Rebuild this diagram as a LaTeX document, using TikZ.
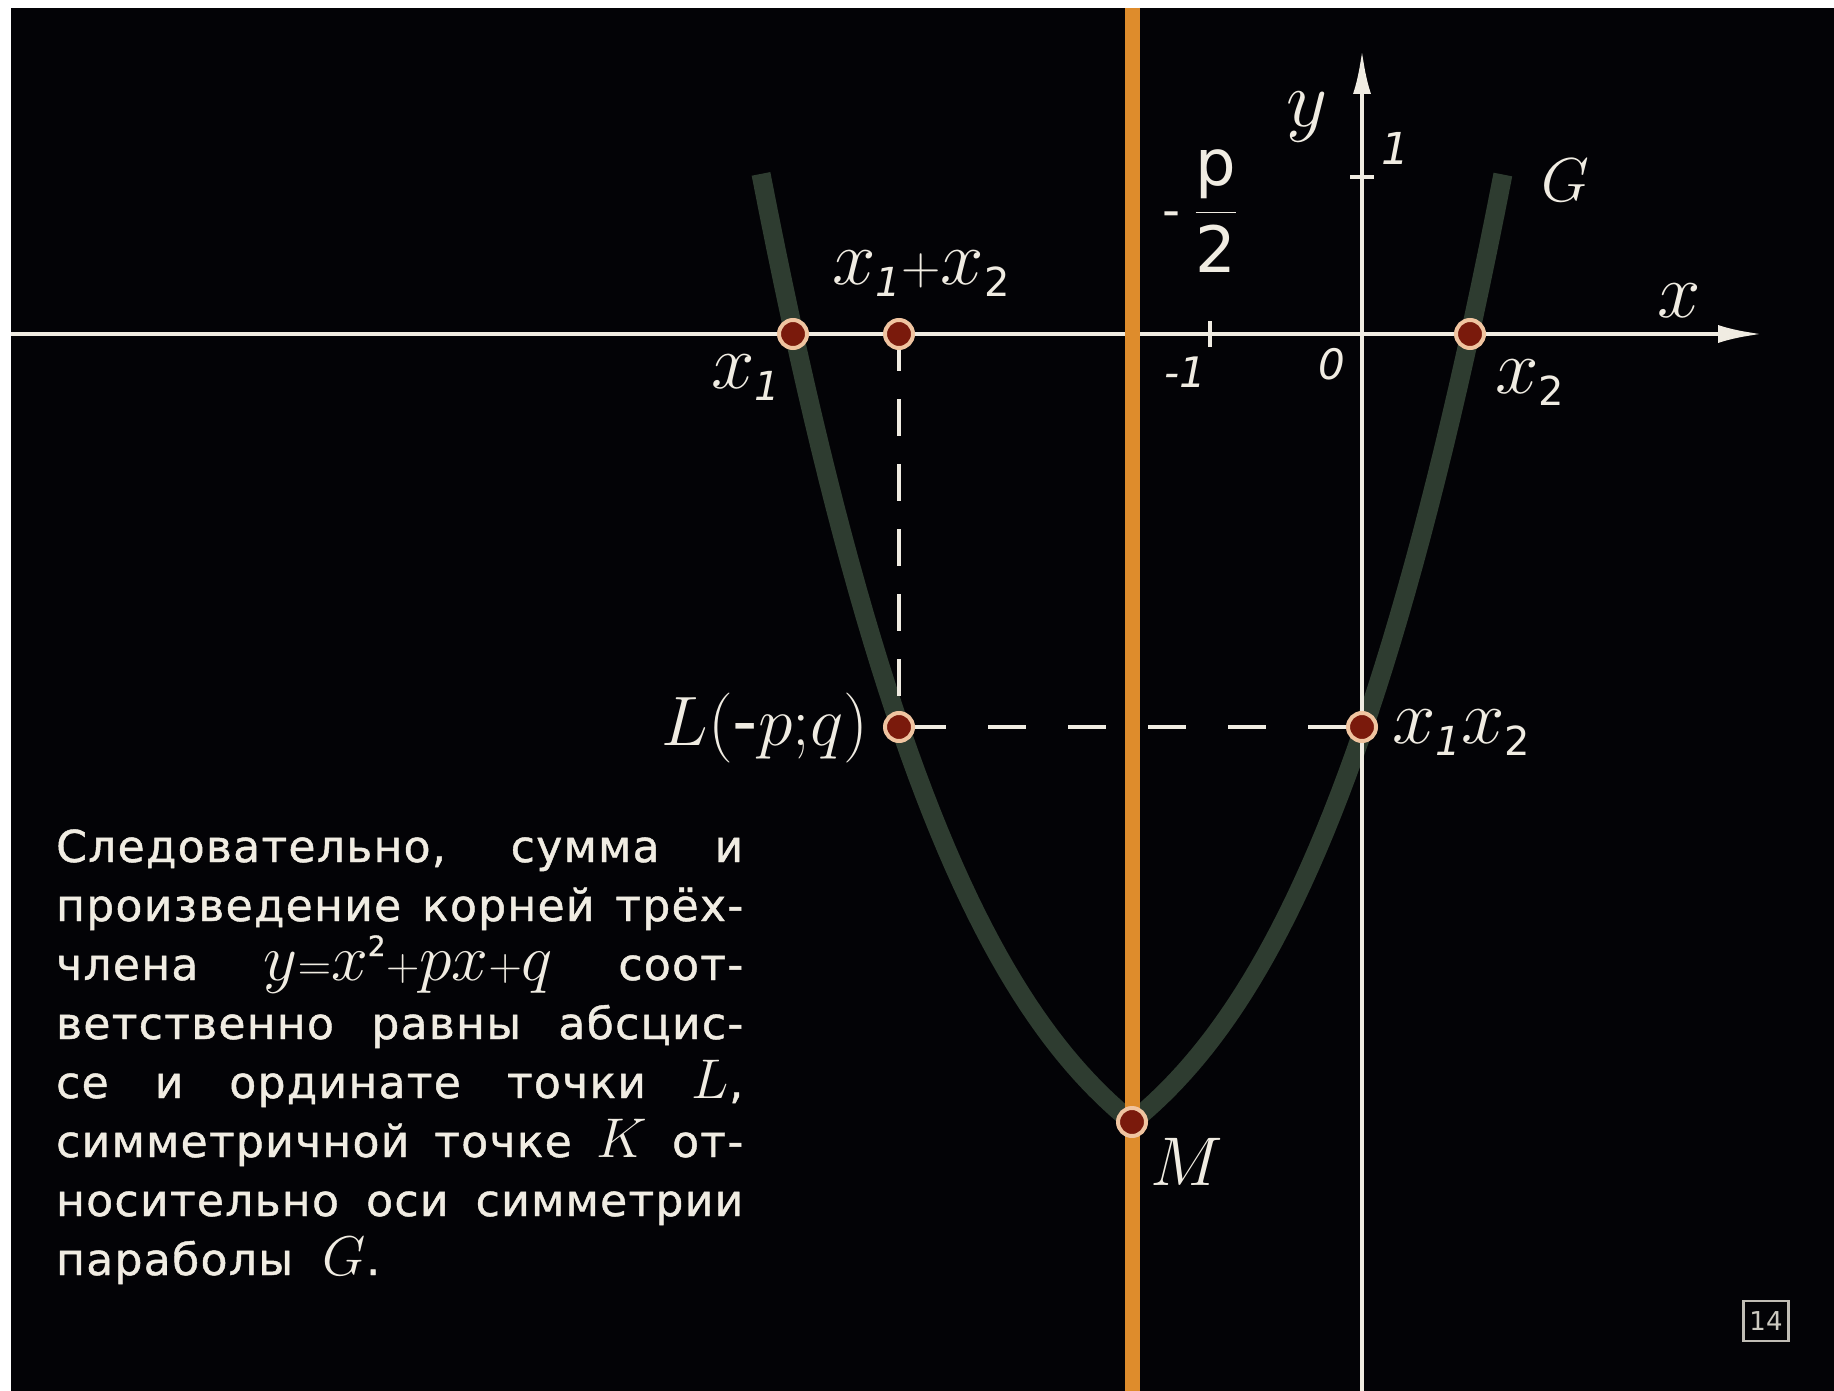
\RequirePackage{fix-cm}
\documentclass[tikz,border=0pt]{standalone}
\usepackage{fontspec}
\setmainfont{DejaVu Sans}
\newfontfamily\bodyfont[LetterSpace=3,FakeBold=1]{DejaVu Sans}
\usetikzlibrary{arrows.meta}
\definecolor{bgblack}{RGB}{3,3,6}
\definecolor{chalk}{RGB}{240,236,226}
\definecolor{axisor}{RGB}{222,140,44}
\definecolor{parab}{RGB}{46,60,48}
\definecolor{dotred}{RGB}{122,26,12}
\definecolor{dotrim}{RGB}{240,196,160}
\newcommand\fsz[1]{\fontsize{#1}{#1}\selectfont}
\newcommand\jline[1]{\makebox[687pt][s]{#1}}
\newcommand\dg[1]{\mbox{\fsz{40}\upshape #1}}
\newcommand\di[1]{\mbox{\fsz{40}\itshape #1}}
\tikzset{
  axisline/.style={chalk, line width=4.5pt},
  arrowline/.style={axisline, -{Latex[length=44pt,width=18pt]}},
  dashh/.style={chalk, line width=4pt, dash pattern=on 38pt off 42pt, dash phase=71pt},
  dashv/.style={chalk, line width=4pt, dash pattern=on 37pt off 28pt},
  orangeline/.style={axisor, line width=15pt},
  parabline/.style={parab, line width=19pt, line join=round},
  dotsty/.style={circle, fill=dotred, draw=dotrim, line width=4pt, minimum size=28pt, inner sep=0pt},
  lbl/.style={text=chalk, inner sep=0pt},
  bodyline/.style={text=chalk, inner sep=0pt, anchor=base west, font=\bodyfont\fsz{44}},
  pagebox/.style={draw=chalk!80!black, line width=2.5pt, minimum width=45pt, minimum height=40pt, inner sep=0pt, text=chalk!85!black, font=\fsz{26}}
}
\begin{document}
\begin{tikzpicture}[x=1pt,y=-1pt]
\useasboundingbox (0,0) rectangle (1834,1391);
\fill[white] (0,0) rectangle (1834,1391);
\fill[bgblack] (11,8) rectangle (1834,1391);
% named points
\coordinate (X1) at (793,334);
\coordinate (S) at (899,334);
\coordinate (X2) at (1470,334);
\coordinate (L) at (899,727);
\coordinate (P) at (1362,727);
\coordinate (M) at (1132,1122);
\coordinate (xa0) at (11,334);
\coordinate (xa1) at (1762,334);
\coordinate (ya0) at (1362,1391);
\coordinate (ya1) at (1362,50);
\coordinate (or0) at (1132,8);
\coordinate (or1) at (1132,1391);
% parabola G (hand-drawn shape, slight point at the vertex)
\draw[parabline] plot[domain=-3.71:3.71, samples=101]
  ({1132+100*\x}, {1122-(81.27*abs(\x)+23.974*\x*\x+6.2*abs(\x)*\x*\x)});
% axes
\draw[arrowline] (xa0) -- (xa1);
\draw[arrowline] (ya0) -- (ya1);
\draw[axisline] (1210,321) -- (1210,347);
\draw[axisline] (1350,177) -- (1374,177);
% dashed
\draw[dashv] (S) -- (L);
\draw[dashh] (L) -- (P);
% symmetry axis
\draw[orangeline] (or0) -- (or1);
% points
\node[dotsty] (dX1) at (X1) {};
\node[dotsty] (dS) at (S) {};
\node[dotsty] (dX2) at (X2) {};
\node[dotsty] (dL) at (L) {};
\node[dotsty] (dP) at (P) {};
\node[dotsty] (dM) at (M) {};
% labels
\node[lbl, font=\fsz{80}] (ylab) at (1307,117) {$y$};
\node[lbl, font=\fsz{78}] (xlab) at (1679,301) {$x$};
\node[lbl, font=\fsz{62}] (Glab) at (1565,180) {$G$};
\node[lbl, font=\fsz{44}\itshape] (onelab) at (1395,148) {1};
\node[lbl, font=\fsz{42}\itshape] (monelab) at (1185,372) {-1};
\node[lbl, font=\fsz{42}\itshape] (zerolab) at (1332,364) {0};
\node[lbl, font=\fsz{50}] (minuslab) at (1172,220) {-};
\node[lbl, font=\fsz{64}] (p2lab) at (1216,211) {$\displaystyle\frac{\mbox{p}}{\mbox{2}}$};
\node[lbl, font=\fsz{78}] (x1lab) at (746,378) {$x_{\di{1}}$};
\node[lbl, font=\fsz{78}] (x2lab) at (1530,383) {$x_{\dg{2}}$};
\node[lbl, font=\fsz{78}] (sumlab) at (921,274) {$x_{\di{1}}{\scriptstyle+}x_{\dg{2}}$};
\node[lbl, font=\fsz{78}, anchor=west] (prodlab) at (1392,733) {$x_{\di{1}}x_{\dg{2}}$};
\node[lbl, font=\fsz{70}, anchor=east] (Llab) at (868,728) {$L(\mbox{-}p{;}q)$};
\node[lbl, font=\fsz{69}] (Mlab) at (1187,1162) {$M$};
% text block
\node[bodyline] (t1) at (56,862) {\jline{Следовательно, сумма и}};
\node[bodyline] (t2) at (56,921) {\jline{произведение корней трёх-}};
\node[bodyline] (t3) at (56,980) {\jline{члена {\fsz{66}$y{\scriptstyle=}x^{\mbox{\fsz{28}2}}{\scriptstyle+}px{\scriptstyle+}q$} соот-}};
\node[bodyline] (t4) at (56,1039) {\jline{ветственно равны абсцис-}};
\node[bodyline] (t5) at (56,1098) {\jline{се и ординате точки {\fsz{56}$L$},}};
\node[bodyline] (t6) at (56,1157) {\jline{симметричной точке {\fsz{56}$K$} от-}};
\node[bodyline] (t7) at (56,1216) {\jline{носительно оси симметрии}};
\node[bodyline] (t8) at (56,1275) {параболы\hspace{30pt}{\fsz{56}$G$}.};
% frame number
\node[pagebox] (pg) at (1766,1321) {14};
\end{tikzpicture}
\end{document}
